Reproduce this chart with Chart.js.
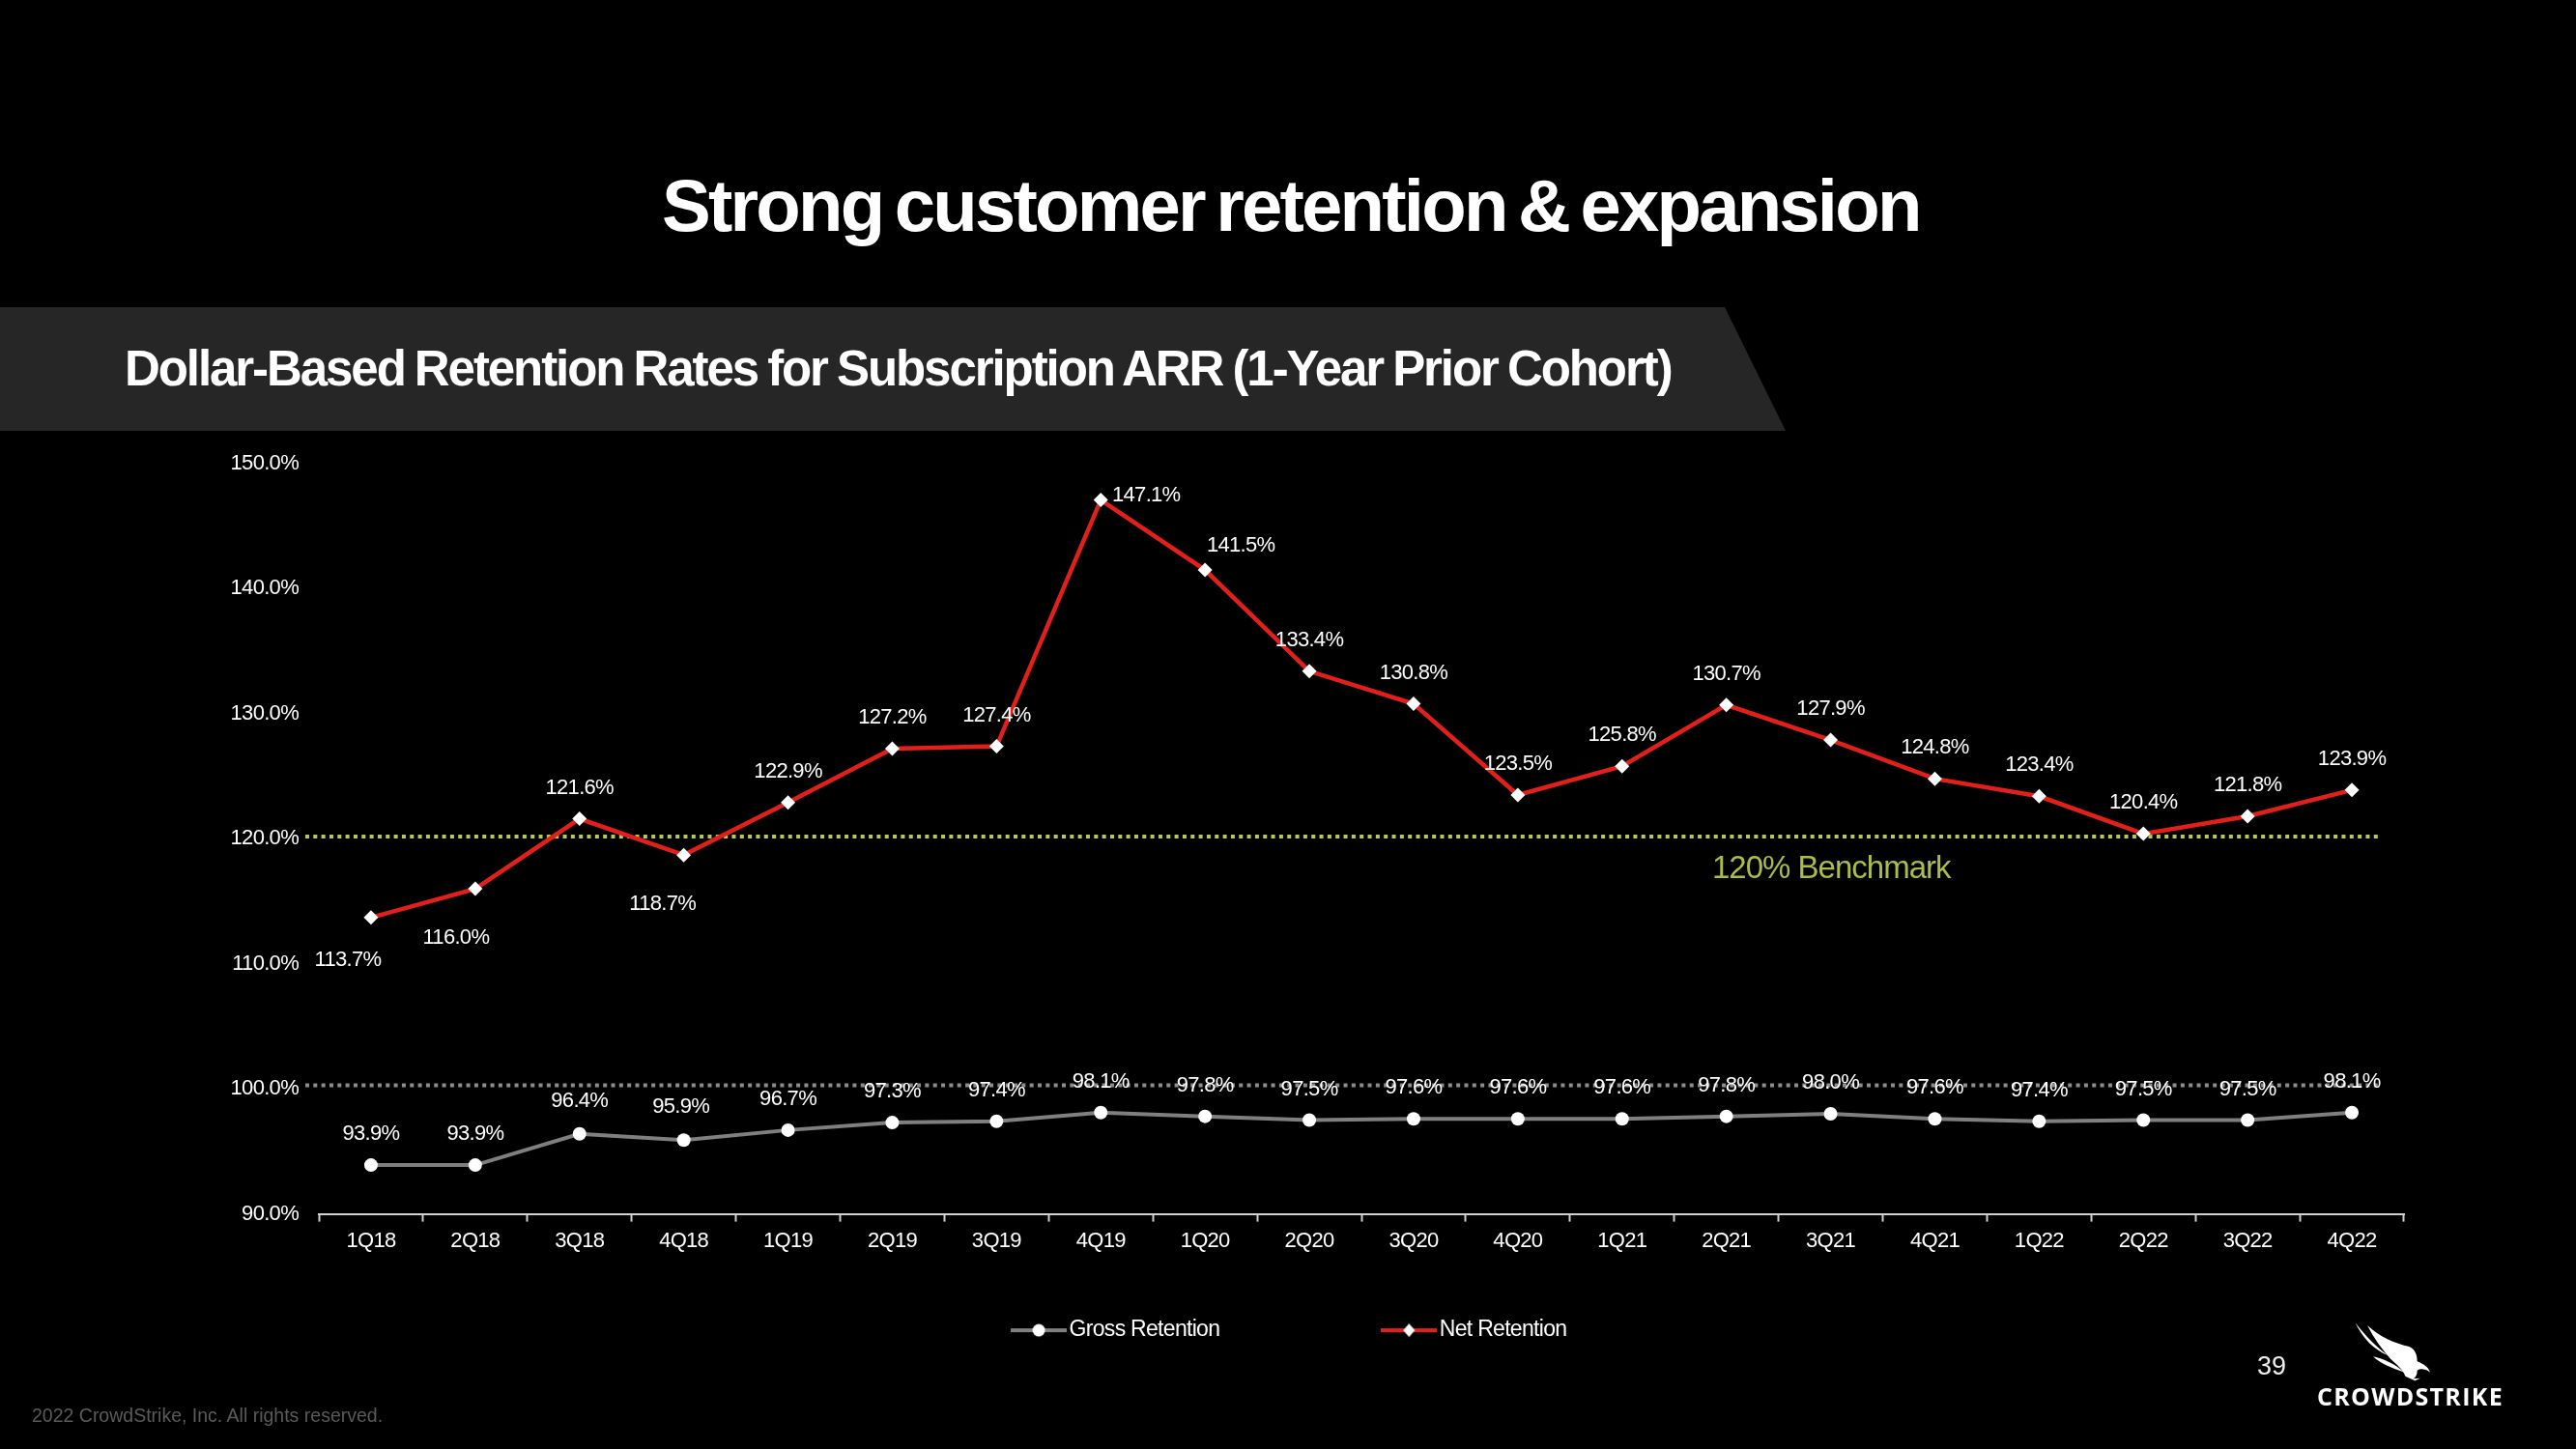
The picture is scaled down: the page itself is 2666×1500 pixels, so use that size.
<!DOCTYPE html>
<html>
<head>
<meta charset="utf-8">
<style>
  html, body { margin: 0; padding: 0; background: #000; width: 2666px; height: 1500px; overflow: hidden; font-family: "Liberation Sans", sans-serif; color: #fff; }
  #chart { position: absolute; left: 0; top: 0; }
  .abs { position: absolute; white-space: nowrap; }
  #title { left: 685px; top: 169px; font-size: 76px; line-height: 88px; font-weight: 700; letter-spacing: -2.75px; word-spacing: -6px; }
  #banner { left: 0; top: 318px; width: 1848px; height: 128px; background: #262626; clip-path: polygon(0 0, 1785px 0, 1848px 100%, 0 100%); }
  #subtitle { left: 129px; top: 352px; font-size: 51px; line-height: 60px; font-weight: 700; letter-spacing: -2.07px; word-spacing: -2px; }
  #benchmark { left: 1772px; top: 878px; font-size: 33px; line-height: 40px; color: #a9bc4c; letter-spacing: -1px; }
  #page { left: 2336px; top: 1398px; font-size: 27px; line-height: 32px; color: #eee; }
  #footer { left: 33px; top: 1453px; font-size: 19.5px; line-height: 24px; color: #5a5a5a; }
  #wordmark { left: 2398px; top: 1431px; font-size: 25px; line-height: 28px; font-weight: 700; letter-spacing: 1.3px; font-family: "Open Sans", sans-serif; }
  #falcon { left: 2200px; top: 1050px; }
</style>
</head>
<body>
<div class="abs" id="banner"></div>
<canvas id="chart" width="2666" height="1500"></canvas>
<div class="abs" id="title">Strong customer retention &amp; expansion</div>
<div class="abs" id="subtitle">Dollar-Based Retention Rates for Subscription ARR (1-Year Prior Cohort)</div>
<div class="abs" id="benchmark">120% Benchmark</div>
<div class="abs" id="page">39</div>
<div class="abs" id="footer">2022 CrowdStrike, Inc. All rights reserved.</div>
<div class="abs" id="wordmark">CROWDSTRIKE</div>
<svg class="abs" id="falcon" width="466" height="450" viewBox="0 0 1398 1350" fill="#fff">
  <path d="M713 958 C745 1000 780 1035 815 1060 C770 1042 735 1005 713 958 Z"/>
  <path d="M750 966 C790 1002 830 1020 880 1032 C900 1040 905 1060 905 1078 C925 1086 940 1096 945 1112 C930 1100 915 1100 905 1106 C905 1120 900 1128 892 1132 L915 1130 L898 1138 L868 1124 C862 1105 845 1090 822 1070 C795 1040 770 1005 750 966 Z"/>
  <path d="M768 1063 C800 1070 835 1085 865 1112 C830 1100 795 1088 768 1063 Z"/>
</svg>
<script src="https://cdn.jsdelivr.net/npm/chart.js@4"></script>
<script>
const quarters = ['1Q18','2Q18','3Q18','4Q18','1Q19','2Q19','3Q19','4Q19','1Q20','2Q20','3Q20','4Q20','1Q21','2Q21','3Q21','4Q21','1Q22','2Q22','3Q22','4Q22'];
const grossRetention = [93.9,93.9,96.4,95.9,96.7,97.3,97.4,98.1,97.8,97.5,97.6,97.6,97.6,97.8,98.0,97.6,97.4,97.5,97.5,98.1];
const netRetention = [113.7,116.0,121.6,118.7,122.9,127.2,127.4,147.1,141.5,133.4,130.8,123.5,125.8,130.7,127.9,124.8,123.4,120.4,121.8,123.9];
const benchmarkLine = [120.18, 120.18];
const hundredLine = [100.28, 100.28];
const lineEnds = [-0.13, 19.78];

const labelFont = '22px "Liberation Sans"';
const tightText = '-0.7px';

// label offsets from the marker, only where the label is not straight above it
const netLabelShift = { 0: [-24, 44], 1: [-20, 51], 3: [-22, 51], 7: [47, -5], 8: [37, -25] };
const grossLabelShift = { 3: [-3, -34], 2: [0, -34] };

// legend sample: short line with the marker in the middle
function legendSample(color, diamond) {
    const c = document.createElement('canvas');
    c.width = 58;
    c.height = 16;
    const g = c.getContext('2d');
    g.fillStyle = color;
    g.fillRect(0, 6, 58, 4);
    g.fillStyle = '#fff';
    g.beginPath();
    if (diamond) {
        g.moveTo(29, 1); g.lineTo(35, 8); g.lineTo(29, 15); g.lineTo(23, 8);
    } else {
        g.arc(29, 8, 6.5, 0, Math.PI * 2);
    }
    g.fill();
    return c;
}
const grossSample = legendSample('#7f7f7f', false);
const netSample = legendSample('#e1201c', true);

// no datalabels plugin here so the values are written by hand
const valueLabels = {
    id: 'valueLabels',
    afterDatasetsDraw(chart) {
        const ctx = chart.ctx;
        ctx.save();
        ctx.font = labelFont;
        ctx.fillStyle = '#fff';
        ctx.textAlign = 'center';
        ctx.textBaseline = 'middle';
        ctx.letterSpacing = tightText;
        [[0, grossRetention, grossLabelShift], [1, netRetention, netLabelShift]].forEach(([idx, values, shifts]) => {
            chart.getDatasetMeta(idx).data.forEach((pt, i) => {
                const s = shifts[i] || [0, -32];
                ctx.fillText(values[i].toFixed(1) + '%', pt.x + s[0], pt.y + s[1]);
            });
        });
        ctx.restore();
    }
};

const tightTicks = {
    id: 'tightTicks',
    beforeDraw(chart) { chart.ctx.letterSpacing = tightText; }
};

// legend padding also pushes the text down, so pull the box back up under the axis
const legendUp = {
    id: 'legendUp',
    afterLayout(chart) { chart.legend.top = chart.chartArea.bottom - 67; }
};

const chart = new Chart(document.getElementById('chart'), {
    type: 'line',
    data: {
        labels: quarters,
        datasets: [
            { label: 'Gross Retention', data: grossRetention, borderColor: '#7f7f7f', borderWidth: 4, pointStyle: 'circle', pointRadius: 7, pointBackgroundColor: '#fff', pointBorderWidth: 0, order: 1 },
            { label: 'Net Retention', data: netRetention, borderColor: '#e1201c', borderWidth: 4.5, pointStyle: 'rectRot', pointRadius: 7.5, pointBackgroundColor: '#fff', pointBorderWidth: 0, order: 0 },
            { label: '120 line', data: benchmarkLine.map((v, i) => ({ x: lineEnds[i], y: v })), xAxisID: 'xLine', borderColor: '#b5c95a', borderWidth: 4, borderDash: [4, 4.33], pointRadius: 0, clip: false, order: 3 },
            { label: '100 line', data: hundredLine.map((v, i) => ({ x: lineEnds[i], y: v })), xAxisID: 'xLine', borderColor: '#8c8c8c', borderWidth: 4, borderDash: [4, 4.33], pointRadius: 0, clip: false, order: 3 }
        ]
    },
    options: {
        responsive: false,
        animation: false,
        layout: { padding: { left: 208, right: 178, top: 480, bottom: -14 } },
        plugins: {
            title: { display: false },
            tooltip: { enabled: false },
            legend: {
                position: 'bottom',
                labels: {
                    color: '#fff',
                    font: { family: 'Liberation Sans', size: 23 },
                    usePointStyle: true,
                    pointStyleWidth: 40,
                    padding: 176,
                    boxHeight: 16,
                    generateLabels: () => [
                        { text: 'Gross Retention', fontColor: '#fff', pointStyle: grossSample, lineWidth: 0, strokeStyle: 'transparent', fillStyle: 'transparent' },
                        { text: 'Net Retention', fontColor: '#fff', pointStyle: netSample, lineWidth: 0, strokeStyle: 'transparent', fillStyle: 'transparent' }
                    ]
                }
            }
        },
        scales: {
            x: {
                offset: true,
                grid: { offset: true, drawOnChartArea: false, drawTicks: true, tickLength: 8, tickWidth: 2, color: '#d0d0d0' },
                border: { display: true, color: '#d0d0d0', width: 2 },
                ticks: { color: '#fff', font: { family: 'Liberation Sans', size: 22 }, padding: 7, maxRotation: 0, autoSkip: false }
            },
            xLine: { type: 'linear', display: false, min: 0, max: 20 },
            y: {
                min: 90,
                max: 150,
                afterFit: (scale) => { scale.width = 122; },
                grid: { display: false },
                border: { display: false },
                ticks: {
                    stepSize: 10,
                    color: '#fff',
                    padding: 13,
                    font: { family: 'Liberation Sans', size: 22 },
                    callback: (v) => v.toFixed(1) + '%'
                }
            }
        }
    },
    plugins: [tightTicks, valueLabels, legendUp]
});
</script>
</body>
</html>
